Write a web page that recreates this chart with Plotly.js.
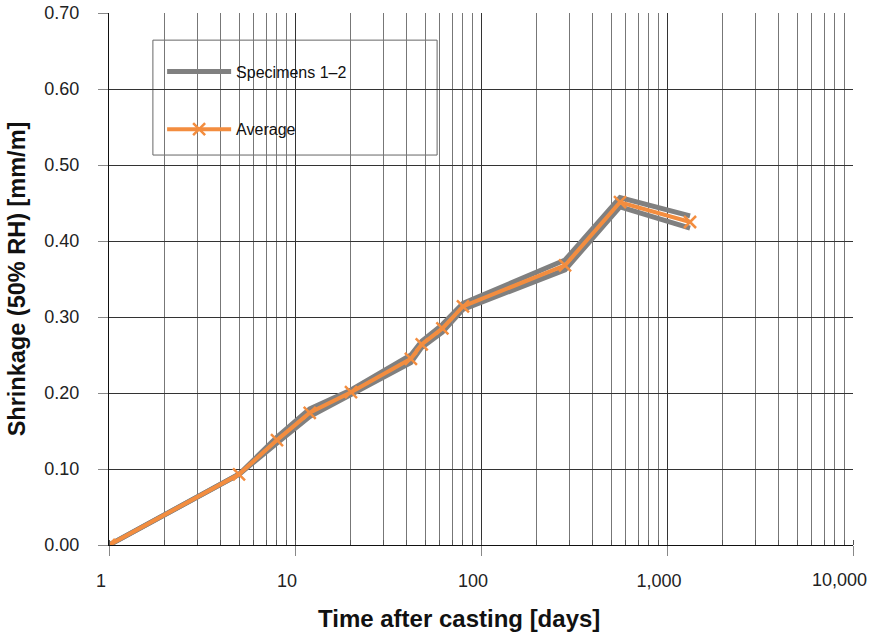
<!DOCTYPE html>
<html>
<head>
<meta charset="utf-8">
<script src="https://cdn.plot.ly/plotly-3.0.1.min.js"></script>
<style>html,body{margin:0;padding:0;background:#fff;}#chart{width:871px;height:634px;}</style>
</head>
<body>
<div id="chart"></div>
<script>
// Time after casting [days]
const days = [1, 5, 8, 12, 20, 42, 48, 62, 80, 283, 559, 1330];
// Shrinkage [mm/m]
const specimen1 = [0, 0.093, 0.142, 0.179, 0.204, 0.250, 0.268, 0.290, 0.318, 0.375, 0.457, 0.433];
const specimen2 = [0, 0.093, 0.134, 0.169, 0.198, 0.240, 0.260, 0.280, 0.310, 0.362, 0.445, 0.417];
const average   = [0, 0.093, 0.138, 0.174, 0.201, 0.245, 0.264, 0.285, 0.314, 0.368, 0.451, 0.425];
const seriesNames = ["Specimens 1–2", "Average"];
const yTicks = [0, 0.1, 0.2, 0.3, 0.4, 0.5, 0.6, 0.7];
const xTicks = [1, 10, 100, 1000, 10000];
const xTitle = 'Time after casting [days]';
const yTitle = 'Shrinkage (50% RH) [mm/m]';

const grey = '#808080';
const orange = '#F38D3F';
const font = 'Liberation Sans, Arial, sans-serif';

const fmt = v => v.toLocaleString('en-US');
const lastTick = xTicks[xTicks.length - 1];
const xTickText = xTicks.map((v, i) => i === xTicks.length - 1 ? '' : fmt(v));

const traces = [
  {x: days, y: specimen1, mode: 'lines', name: seriesNames[0], legendgroup: 'a',
   line: {color: grey, width: 5}, showlegend: true},
  {x: days, y: specimen2, mode: 'lines', name: seriesNames[0], legendgroup: 'a',
   line: {color: grey, width: 5}, showlegend: false},
  {x: days, y: average, mode: 'lines+markers', name: seriesNames[1], legendgroup: 'b',
   line: {color: orange, width: 4},
   marker: {symbol: 'x-thin', size: 12, line: {color: orange, width: 2.5}, color: orange}}
];

const layout = {
  width: 871, height: 634,
  margin: {l: 109, r: 18, t: 13, b: 89},
  paper_bgcolor: '#fff', plot_bgcolor: '#fff',
  font: {family: font, color: '#222', size: 18},
  showlegend: true,
  legend: {x: 0.0714, y: 0.922, xanchor: 'left', yanchor: 'top',
           bgcolor: 'rgba(0,0,0,0)', borderwidth: 0,
           font: {family: font, size: 16, color: '#111'},
           traceorder: 'grouped', tracegroupgap: 34, itemwidth: 64},
  xaxis: {
    type: 'log', range: [0, 4],
    tickvals: xTicks, ticktext: xTickText,
    ticks: 'outside', ticklen: 10, tickcolor: '#888',
    ticklabelshift: -8, ticklabelstandoff: 9,
    showline: true, linecolor: '#111', linewidth: 1, mirror: false,
    showgrid: true, gridcolor: '#333', gridwidth: 1,
    minor: {dtick: 'D1', showgrid: true, gridcolor: '#777', gridwidth: 1,
            ticks: 'inside', ticklen: 5, tickcolor: '#555'},
    tickfont: {family: font, size: 18, color: '#222'},
    zeroline: false
  },
  yaxis: {
    range: [0, 0.7], tickvals: yTicks, tickformat: '.2f',
    ticks: 'outside', ticklen: 10, tickcolor: '#888',
    ticklabelstandoff: 15,
    showline: true, linecolor: '#111', linewidth: 1,
    showgrid: true, gridcolor: '#333', gridwidth: 1,
    tickfont: {family: font, size: 18, color: '#222'},
    title: {text: yTitle, standoff: 12,
            font: {family: font, size: 23.5, color: '#111', weight: 'bold'}},
    zeroline: false
  },
  annotations: [
    {x: Math.log10(lastTick), y: 0, xref: 'x', yref: 'paper', text: fmt(lastTick),
     showarrow: false, xanchor: 'right', yanchor: 'middle', xshift: 16, yshift: -35,
     font: {family: font, size: 18, color: '#222'}},
    {x: 0.47, y: 0, xref: 'paper', yref: 'paper', text: xTitle,
     showarrow: false, xanchor: 'center', yanchor: 'middle', yshift: -73,
     font: {family: font, size: 24, color: '#111', weight: 'bold'}}
  ],
  shapes: [
    {type: 'rect', xref: 'paper', yref: 'paper', layer: 'below',
     x0: 0.059, x1: 0.441, y0: 0.733, y1: 0.949,
     line: {color: '#666', width: 1}, fillcolor: '#fff'}
  ]
};

Plotly.newPlot('chart', traces, layout, {displayModeBar: false, staticPlot: true});
</script>
</body>
</html>
